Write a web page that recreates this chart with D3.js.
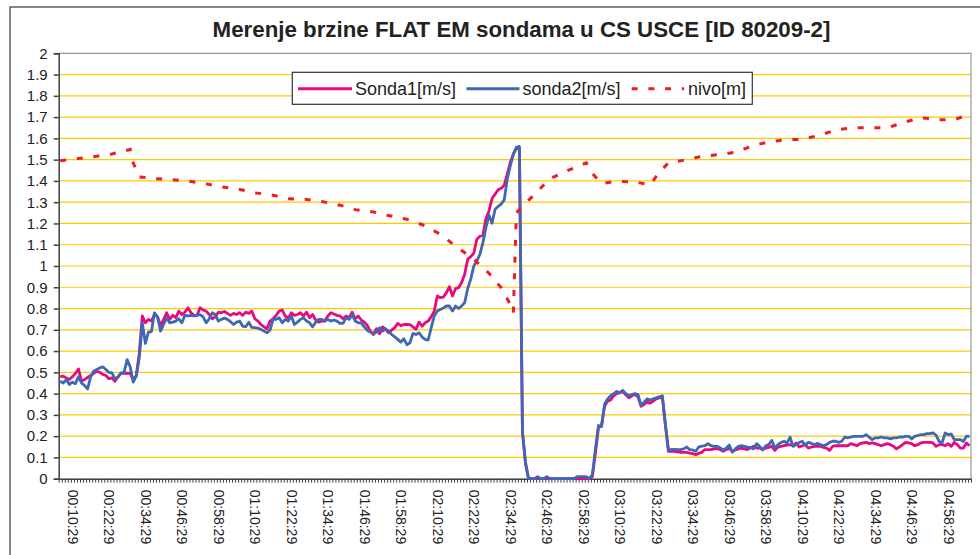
<!DOCTYPE html>
<html><head><meta charset="utf-8">
<script src="https://cdn.jsdelivr.net/npm/d3@7/dist/d3.min.js"></script>
<style>
body{margin:0;background:#fff}
svg{display:block}
text{font-family:"Liberation Sans",Arial,sans-serif}
</style>
</head><body>
<svg id="c" width="980" height="555"></svg>
<script>
// ---------- DATA ----------
const title = "Merenje brzine FLAT EM sondama u CS USCE [ID 80209-2]";
const seriesNames = ["Sonda1[m/s]", "sonda2[m/s]", "nivo[m]"];
const nCategories = 300;              // one category per minute, 00:06:29 ... 05:05:29
const firstLabelIndex = 4, labelStep = 12;
const tickLabels = ["00:10:29","00:22:29","00:34:29","00:46:29","00:58:29","01:10:29","01:22:29","01:34:29",
  "01:46:29","01:58:29","02:10:29","02:22:29","02:34:29","02:46:29","02:58:29","03:10:29","03:22:29",
  "03:34:29","03:46:29","03:58:29","04:10:29","04:22:29","04:34:29","04:46:29","04:58:29"];
const yTicks = [0,0.1,0.2,0.3,0.4,0.5,0.6,0.7,0.8,0.9,1,1.1,1.2,1.3,1.4,1.5,1.6,1.7,1.8,1.9,2];

const sonda1 = [
.479,.482,.474,.466,.479,.495,.516,.458,.466,.476,
.485,.495,.505,.50,.49,.485,.47,.474,.458,.479,
.495,.495,.496,.495,.466,.485,.59,.765,.733,.749,
.741,.772,.761,.72,.749,.78,.749,.768,.757,.788,
.771,.783,.804,.78,.768,.768,.804,.793,.788,.772,
.752,.761,.783,.78,.786,.777,.768,.777,.772,.78,
.768,.783,.777,.788,.752,.741,.725,.714,.705,.741,
.752,.768,.788,.793,.765,.755,.78,.768,.772,.78,
.765,.783,.757,.772,.746,.736,.741,.741,.765,.78,
.774,.768,.765,.752,.765,.757,.783,.752,.765,.746,
.736,.72,.694,.678,.705,.681,.714,.702,.686,.699,
.71,.73,.72,.725,.725,.724,.714,.702,.736,.717,
.733,.741,.762,.788,.859,.851,.854,.875,.903,.859,
.894,.898,.922,.961,1.032,1.044,1.06,1.126,1.14,1.145,
1.223,1.259,1.317,1.338,1.358,1.365,1.38,1.432,1.487,1.526,
1.554,1.55,.22,.07,0,0,0,0,0,0,
0,0,0,0,0,0,0,0,0,0,
0,0,0,0,0,.01,.12,.24,.25,.34,
.365,.37,.39,.40,.405,.41,.395,.38,.39,.395,
.385,.34,.35,.36,.355,.365,.375,.38,.385,.25,
.129,.129,.129,.126,.124,.124,.124,.12,.118,.113,
.12,.124,.137,.137,.137,.14,.142,.137,.129,.137,
.142,.129,.135,.14,.144,.14,.137,.145,.152,.144,
.144,.137,.144,.147,.152,.133,.149,.152,.155,.158,
.16,.155,.168,.149,.155,.16,.144,.149,.152,.152,
.152,.147,.144,.133,.152,.155,.155,.155,.155,.155,
.165,.16,.155,.165,.168,.171,.165,.168,.165,.16,
.155,.16,.165,.16,.152,.14,.15,.16,.171,.168,
.165,.155,.16,.168,.171,.171,.171,.168,.152,.16,
.16,.155,.165,.152,.171,.16,.144,.144,.168,.155];

const sonda2 = [
.458,.45,.466,.443,.454,.447,.479,.45,.438,.422,
.479,.505,.513,.521,.526,.513,.50,.498,.469,.479,
.498,.50,.56,.526,.454,.482,.568,.733,.636,.689,
.692,.78,.761,.694,.725,.757,.733,.736,.741,.752,
.733,.768,.765,.768,.765,.769,.771,.761,.733,.752,
.78,.772,.741,.749,.755,.749,.738,.725,.736,.741,
.717,.714,.736,.711,.71,.708,.702,.694,.686,.699,
.749,.749,.757,.733,.749,.741,.765,.725,.736,.749,
.757,.741,.733,.714,.736,.749,.749,.741,.749,.741,
.746,.741,.73,.73,.757,.749,.771,.741,.733,.733,
.714,.697,.689,.681,.689,.71,.694,.705,.694,.678,
.667,.655,.642,.658,.63,.639,.683,.678,.686,.666,
.655,.652,.71,.765,.788,.796,.803,.812,.812,.788,
.812,.80,.812,.828,.894,.938,1.0,1.024,1.055,1.11,
1.181,1.239,1.201,1.267,1.28,1.291,1.311,1.408,1.471,1.526,
1.558,1.562,.22,.08,0,0,0,.01,0,0,
.01,0,0,0,0,0,0,0,0,0,
.01,.01,.01,.01,0,.02,.14,.25,.245,.35,
.375,.39,.40,.41,.405,.415,.40,.39,.395,.40,
.395,.345,.36,.375,.37,.375,.38,.385,.39,.26,
.137,.137,.138,.137,.137,.14,.149,.137,.135,.129,
.15,.153,.155,.165,.155,.152,.152,.145,.135,.143,
.158,.124,.14,.152,.155,.152,.149,.146,.14,.165,
.152,.135,.155,.16,.18,.144,.16,.17,.176,.168,
.195,.152,.16,.17,.176,.158,.171,.166,.16,.166,
.16,.155,.16,.171,.176,.176,.171,.176,.196,.192,
.196,.199,.199,.199,.199,.207,.195,.184,.192,.192,
.196,.192,.192,.187,.192,.192,.196,.196,.199,.199,
.187,.199,.203,.207,.207,.212,.212,.215,.205,.176,
.168,.215,.207,.21,.184,.184,.184,.175,.2,.199];

// level readings (category index, value)
const nivoIndex = [0,6,12,17,23,24,26,31,37,42,48,53,59,64,70,75,81,86,92,97,103,108,114,120,125,130,136,141,145,148,149,150,152,157,161,167,173,175,178,183,189,194,197,200,206,211,217,222,228,233,239,244,250,255,261,267,272,278,283,289,294,299];
const nivoValue = [1.495,1.505,1.516,1.527,1.548,1.485,1.419,1.411,1.405,1.399,1.386,1.372,1.36,1.344,1.333,1.316,1.313,1.303,1.286,1.265,1.254,1.237,1.22,1.189,1.149,1.094,1.032,0.966,0.898,0.82,0.78,1.25,1.28,1.352,1.41,1.45,1.485,1.435,1.388,1.398,1.395,1.382,1.441,1.485,1.5,1.516,1.524,1.535,1.566,1.584,1.594,1.595,1.616,1.64,1.65,1.65,1.65,1.678,1.697,1.688,1.688,1.713];

// ---------- STYLE / LAYOUT ----------
const colors = {s1:"#E8097F", s2:"#3F68B4", nivo:"#EE1C25", grid:"#FFCC00"};
const L = 58.7, R = 971, T = 53.3, B = 478.7;

const svg = d3.select("#c");
const x = d3.scaleLinear().domain([0, nCategories]).range([L, R]);
const y = d3.scaleLinear().domain([0, 2]).range([B, T]);

// chart area border
svg.append("rect").attr("x",10).attr("y",7).attr("width",1000).attr("height",600)
  .attr("fill","#fff").attr("stroke","#555").attr("stroke-width",1.4);

// title
svg.append("text").attr("x",521.5).attr("y",36.8).attr("text-anchor","middle")
  .attr("font-size",22.3).attr("font-weight","bold").attr("fill","#222").text(title);

// gridlines
svg.append("g").selectAll("line").data(yTicks.filter(d => d > 0 && d < 2)).join("line")
  .attr("x1",L).attr("x2",R).attr("y1",d=>y(d)).attr("y2",d=>y(d))
  .attr("stroke",colors.grid).attr("stroke-width",1.2);

// plot border top/right
svg.append("path").attr("d",`M${L},${T}H${R}V${B}`).attr("fill","none")
  .attr("stroke","#999").attr("stroke-width",1.2);

// y axis
const gy = svg.append("g").attr("transform",`translate(${L},0)`)
  .call(d3.axisLeft(y).tickValues(yTicks).tickFormat(d => String(+d.toFixed(1))).tickSize(5).tickPadding(6));
gy.selectAll("text").attr("font-size",15).attr("fill","#222").attr("font-family","'Liberation Sans',Arial,sans-serif");
gy.selectAll("line,path").attr("stroke","#404040").attr("stroke-width",1.5);

// x axis ticks (category boundaries)
const gx = svg.append("g").attr("transform",`translate(0,${B})`)
  .call(d3.axisBottom(x).tickValues(d3.range(0, nCategories + 1)).tickFormat("").tickSize(4).tickSizeOuter(0));
gx.selectAll("line").attr("stroke","#404040").attr("stroke-width",1);
gx.select("path").attr("stroke","#404040").attr("stroke-width",1.5);

// x labels
const labelPos = tickLabels.map((_, k) => firstLabelIndex + k * labelStep + 0.5);
const gl = svg.append("g").attr("transform",`translate(0,${B})`)
  .call(d3.axisBottom(x).tickValues(labelPos).tickFormat((d, k) => tickLabels[k]).tickSize(0));
gl.select("path").remove();
gl.selectAll("text").attr("font-size",14).attr("fill","#222")
  .attr("font-family","'Liberation Sans',Arial,sans-serif")
  .attr("transform","rotate(90)").attr("text-anchor","start")
  .attr("x",11).attr("y",0).attr("dy","0.35em");

// series
const lineIdx = d3.line().x((d, i) => x(i + 0.5)).y(d => y(d));
svg.append("path").datum(sonda1).attr("d",lineIdx).attr("fill","none")
  .attr("stroke",colors.s1).attr("stroke-width",2.8).attr("stroke-linejoin","round");
svg.append("path").datum(sonda2).attr("d",lineIdx).attr("fill","none")
  .attr("stroke",colors.s2).attr("stroke-width",2.8).attr("stroke-linejoin","round");
const nivo = nivoIndex.map((d, k) => [d, nivoValue[k]]);
svg.append("path").datum(nivo)
  .attr("d", d3.line().x(d => x(d[0] + 0.5)).y(d => y(d[1])))
  .attr("fill","none").attr("stroke",colors.nivo).attr("stroke-width",3)
  .attr("stroke-dasharray","6,10.7");

// legend
const lg = svg.append("g");
lg.append("rect").attr("x",292.3).attr("y",72.3).attr("width",460).attr("height",32)
  .attr("fill","#fff").attr("stroke","#333").attr("stroke-width",1.2);
const legItems = [
  {name:seriesNames[0], c:colors.s1, x1:298, x2:352, tx:355, dash:null},
  {name:seriesNames[1], c:colors.s2, x1:466.5, x2:519.5, tx:522.5, dash:null},
  {name:seriesNames[2], c:colors.nivo, x1:631.7, x2:684, tx:688, dash:"6,10.7"}
];
legItems.forEach(it => {
  const l = lg.append("line").attr("x1",it.x1).attr("x2",it.x2).attr("y1",88.7).attr("y2",88.7)
    .attr("stroke",it.c).attr("stroke-width",3);
  if (it.dash) l.attr("stroke-dasharray",it.dash);
  lg.append("text").attr("x",it.tx).attr("y",94.5).attr("font-size",18).attr("fill","#222").text(it.name);
});
</script>
</body></html>
